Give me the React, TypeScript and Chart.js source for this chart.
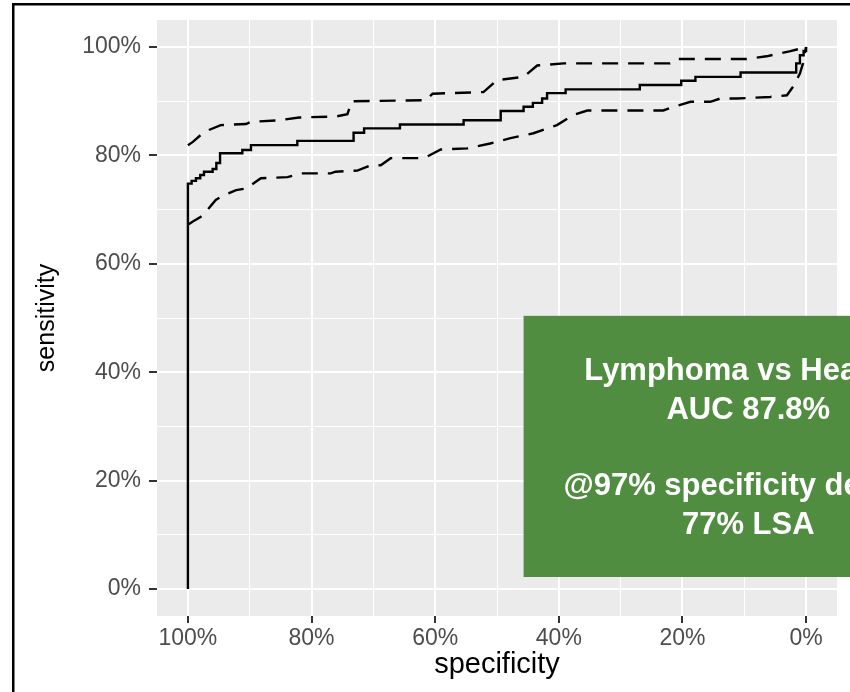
import React, { useEffect, useRef } from "react";
import { Chart, registerables } from "chart.js";

Chart.register(...registerables);

const FONT = "'Liberation Sans', Arial, Helvetica, sans-serif";

// tick positions (percent)
const xTickValues = [0, 10, 20, 30, 40, 50, 60, 70, 80, 90, 100];
const yTickValues = [0, 10, 20, 30, 40, 50, 60, 70, 80, 90, 100];

// ROC curve (specificity %, sensitivity %)
const rocSpec = [100, 100, 99.4, 98.7, 98.0, 97.4, 96.0, 95.4, 94.8, 91.2, 89.8, 82.3, 73.2, 71.5, 65.7, 55.4, 49.4, 45.7, 44.2, 42.7, 41.9, 38.9, 26.9, 20.2, 17.9, 10.6, 1.6, 1.0, 0.4, 0];
const rocSens = [0, 74.8, 75.3, 75.8, 76.4, 77.0, 77.5, 78.6, 80.4, 81.0, 81.9, 82.7, 84.2, 85.0, 85.7, 86.5, 88.2, 89.0, 89.7, 90.5, 91.5, 92.2, 93.0, 93.8, 94.5, 95.3, 97.0, 98.5, 99.3, 100];

// upper confidence band
const upperSpec = [100, 99.2, 97.9, 96.6, 94.7, 90.6, 89.8, 85.3, 82.0, 76.0, 74.2, 73.5, 61.5, 60.4, 52.2, 50.0, 45.7, 43.5, 39.2, 22.0, 20.9, 9.6, 6.4, 2.7, 1.0, 0];
const upperSens = [81.9, 82.5, 83.8, 84.7, 85.6, 85.8, 86.2, 86.5, 87.0, 87.2, 87.6, 90.0, 90.2, 91.4, 91.7, 93.9, 94.5, 96.6, 97.0, 97.0, 97.8, 97.8, 98.3, 99.2, 99.7, 100];

// lower confidence band
const lowerSpec = [100, 99.2, 97.9, 97.1, 95.5, 94.1, 92.2, 90.6, 89.3, 88.2, 83.9, 81.7, 76.9, 76.1, 72.6, 70.4, 68.8, 67.2, 61.8, 59.1, 54.8, 51.1, 47.8, 44.1, 40.3, 37.6, 35.4, 23.1, 21.4, 18.7, 15.5, 13.9, 11.2, 5.8, 3.1, 2.1, 1.0, 0.5, 0];
const lowerSens = [67.2, 67.8, 68.7, 69.6, 71.8, 72.7, 73.6, 73.9, 74.9, 75.8, 76.0, 76.7, 76.7, 77.0, 77.2, 78.2, 78.2, 79.5, 79.5, 81.1, 81.3, 82.2, 83.2, 84.1, 85.6, 87.5, 88.3, 88.3, 89.0, 89.9, 89.9, 90.5, 90.5, 90.8, 91.1, 92.7, 95.1, 97.0, 100];

// annotation box
const annotationLines = ["Lymphoma vs Healthy", "AUC 87.8%", "", "@97% specificity detects", "77% LSA"];
const boxSpecRange = [45.7, -27.0];
const boxSensRange = [50.4, 2.2];
const BOX_COLOR = "#508D40";

const toXY = (xs: number[], ys: number[]) => xs.map((x, i) => ({ x, y: ys[i] }));
const isMajor = (v: number) => Math.round(v) % 20 === 0;

const ggPlugin = {
  id: "ggPanel",
  beforeDraw(chart: any) {
    const { ctx, chartArea: a } = chart;
    ctx.save();
    ctx.fillStyle = "#EBEBEB";
    ctx.fillRect(a.left, a.top, a.right - a.left, a.bottom - a.top);
    ctx.restore();
  },
  afterDraw(chart: any) {
    const { ctx } = chart;
    const xs = chart.scales.x;
    const ys = chart.scales.y;
    const l = xs.getPixelForValue(boxSpecRange[0]);
    const r = xs.getPixelForValue(boxSpecRange[1]);
    const t = ys.getPixelForValue(boxSensRange[0]);
    const b = ys.getPixelForValue(boxSensRange[1]);
    ctx.save();
    ctx.fillStyle = BOX_COLOR;
    ctx.fillRect(l, t, r - l, b - t);
    ctx.fillStyle = "#FFFFFF";
    ctx.font = `bold 31px ${FONT}`;
    ctx.textAlign = "center";
    ctx.textBaseline = "middle";
    const cx = (l + r) / 2;
    const cy = (t + b) / 2 + 2;
    const lh = 38.3;
    const n = annotationLines.length;
    annotationLines.forEach((s, i) => {
      if (s) ctx.fillText(s, cx, cy + (i - (n - 1) / 2) * lh);
    });
    // outer frame
    ctx.fillStyle = "#000000";
    ctx.fillRect(12, 3, 2.5, chart.height);
    ctx.fillRect(12, 3, chart.width, 2.5);
    ctx.restore();
  },
};

export default function App() {
  const ref = useRef<HTMLCanvasElement>(null);
  useEffect(() => {
    const canvas = ref.current;
    if (!canvas) return;
    const gridCommon = {
      color: "#FFFFFF",
      lineWidth: (c: any) => (c.tick && isMajor(c.tick.value) ? 2 : 1),
      tickColor: (c: any) => (c.tick && isMajor(c.tick.value) ? "#333333" : "rgba(0,0,0,0)"),
      tickWidth: 2,
      drawTicks: true,
    };
    const chart = new Chart(canvas, {
      type: "line",
      data: {
        datasets: [
          {
            data: toXY(upperSpec, upperSens),
            borderColor: "#000000",
            borderWidth: 2.4,
            borderDash: [16, 10],
            pointRadius: 0,
            tension: 0,
            fill: false,
          },
          {
            data: toXY(lowerSpec, lowerSens),
            borderColor: "#000000",
            borderWidth: 2.4,
            borderDash: [16, 10],
            pointRadius: 0,
            tension: 0,
            fill: false,
          },
          {
            data: toXY(rocSpec, rocSens),
            borderColor: "#000000",
            borderWidth: 2.4,
            stepped: "before",
            pointRadius: 0,
            fill: false,
          },
        ],
      },
      options: {
        animation: false,
        responsive: true,
        maintainAspectRatio: false,
        layout: { padding: { top: 20, right: 13, bottom: 0, left: 0 } },
        plugins: { legend: { display: false }, tooltip: { enabled: false } },
        scales: {
          x: {
            type: "linear",
            reverse: true,
            min: -5,
            max: 105,
            afterBuildTicks: (s: any) => {
              s.ticks = xTickValues.map((v) => ({ value: v }));
            },
            afterFit: (s: any) => {
              s.height = 76;
              s.paddingLeft = 0;
              s.paddingRight = 0;
            },
            grid: { ...gridCommon, tickLength: 7 },
            border: { display: false },
            ticks: {
              autoSkip: false,
              maxRotation: 0,
              minRotation: 0,
              padding: 2,
              color: "#4D4D4D",
              font: { family: FONT, size: 23 },
              callback: (v: any) => (isMajor(Number(v)) ? `${v}%` : ""),
            },
            title: {
              display: true,
              text: "specificity",
              color: "#000000",
              font: { family: FONT, size: 29 },
              padding: { top: 0, bottom: 10 },
            },
          },
          y: {
            type: "linear",
            min: -5,
            max: 105,
            afterBuildTicks: (s: any) => {
              s.ticks = yTickValues.map((v) => ({ value: v }));
            },
            afterFit: (s: any) => {
              s.width = 157;
              s.paddingTop = 0;
              s.paddingBottom = 0;
            },
            grid: { ...gridCommon, tickLength: 8 },
            border: { display: false },
            ticks: {
              autoSkip: false,
              padding: 8,
              color: "#4D4D4D",
              font: { family: FONT, size: 23 },
              callback: (v: any) => (isMajor(Number(v)) ? `${v}%` : ""),
            },
            title: {
              display: true,
              text: "sensitivity",
              color: "#000000",
              font: { family: FONT, size: 25 },
              padding: { top: 32, bottom: 0 },
            },
          },
        },
      },
      plugins: [ggPlugin],
    } as any);
    return () => chart.destroy();
  }, []);
  return (
    <div
      style={{
        position: "fixed",
        left: 0,
        top: 0,
        width: 850,
        height: 692,
        background: "#FFFFFF",
        overflow: "hidden",
      }}
    >
      <canvas ref={ref} />
    </div>
  );
}
